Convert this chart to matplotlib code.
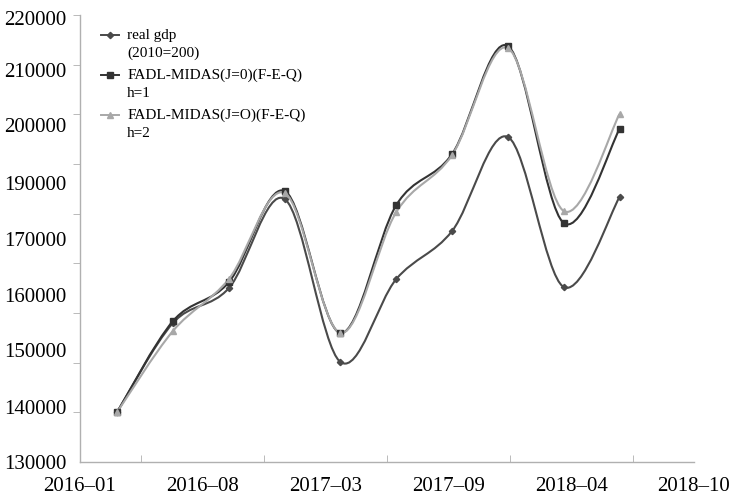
import matplotlib
matplotlib.use("Agg")
import matplotlib.pyplot as plt
from matplotlib.path import Path
from matplotlib.patches import PathPatch
from matplotlib.lines import Line2D
from matplotlib.legend_handler import HandlerLine2D
import numpy as np

# ---- data ----
quarters = ["2016-03", "2016-06", "2016-09", "2016-12", "2017-03",
            "2017-06", "2017-09", "2017-12", "2018-03", "2018-06"]
real_gdp = [140070, 158000, 165000, 182950, 150130,
            166840, 176510, 195430, 165230, 183350]
fadl_h1 = [140070, 158390, 166200, 184560, 155970,
           181740, 192010, 213750, 178120, 197040]
fadl_h2 = [140070, 156400, 166840, 184160, 155970,
           180330, 191810, 213350, 180530, 200060]
x_tick_labels = ["2016–01", "2016–08", "2017–03", "2017–09", "2018–04", "2018–10"]
y_tick_labels = ["130000", "140000", "150000", "160000", "170000",
                 "190000", "200000", "210000", "220000"]
series_labels = ["real gdp\n(2010=200)", "FADL-MIDAS(J=0)(F-E-Q)\nh=1",
                 "FADL-MIDAS(J=O)(F-E-Q)\nh=2"]


def month_index(s):
    y, m = s.split("-")
    return (int(y) - 2016) * 12 + (int(m) - 1)


xs = np.array([month_index(q) for q in quarters], dtype=float)

plt.rcParams['font.family'] = ['Liberation Serif', 'DejaVu Serif']

fig = plt.figure(figsize=(7.33, 4.97), dpi=100)
ax = fig.add_axes([80 / 733, 35 / 497, 614 / 733, 447 / 497])


def smooth_path(x, y):
    pts = np.column_stack([x, y])
    n = len(pts)
    verts = [pts[0]]
    codes = [Path.MOVETO]
    for i in range(n - 1):
        p0 = pts[i - 1] if i > 0 else pts[i]
        p1 = pts[i]
        p2 = pts[i + 1]
        p3 = pts[i + 2] if i + 2 < n else pts[i + 1]
        c1 = p1 + (p2 - p0) / 6.0
        c2 = p2 - (p3 - p1) / 6.0
        verts += [c1, c2, p2]
        codes += [Path.CURVE4] * 3
    return Path(verts, codes)


styles = [
    dict(color="#4a4a4a", marker="D", ms=3.2, lw=1.5),
    dict(color="#333333", marker="s", ms=5.0, lw=1.5),
    dict(color="#a8a8a8", marker="^", ms=4.5, lw=1.5),
]
order = [2, 0, 1]
data = [real_gdp, fadl_h1, fadl_h2]
for k in order:
    st = styles[k]
    patch = PathPatch(smooth_path(xs, data[k]), facecolor="none",
                      edgecolor=st["color"], lw=st["lw"], zorder=2 + k)
    ax.add_patch(patch)
    ax.plot(xs, data[k], ls="none", marker=st["marker"], ms=st["ms"],
            color=st["color"], zorder=5 + k)

ax.set_xlim(0, 33)
ax.set_ylim(130000, 220000)

# x ticks
ax.set_xticks(np.linspace(0, 33, 6))
ax.set_xticklabels(x_tick_labels, fontsize=15)
ax.set_xticks(np.linspace(0, 33, 11), minor=True)
ax.tick_params(axis="x", which="major", length=0, pad=11)
ax.tick_params(axis="x", which="minor", length=5, direction="in",
               color="#b0b0b0")

# y ticks: marks every 10000, labels at their printed positions
label_pos = [130000, 141070, 152550, 163620, 174900,
             186170, 197850, 208920, 219390]
ax.set_yticks(label_pos)
ax.set_yticklabels(y_tick_labels, fontsize=15)
ax.set_yticks(np.arange(130000, 220001, 10000), minor=True)
ax.tick_params(axis="y", which="major", length=0, pad=10)
ax.tick_params(axis="y", which="minor", length=5, direction="out",
               color="#b0b0b0")

for s in ["top", "right"]:
    ax.spines[s].set_visible(False)
for s in ["left", "bottom"]:
    ax.spines[s].set_color("#b0b0b0")
    ax.spines[s].set_linewidth(1.0)


class TopHandler(HandlerLine2D):
    def create_artists(self, legend, orig_handle, xdescent, ydescent,
                       width, height, fontsize, trans):
        arts = super().create_artists(legend, orig_handle, xdescent, ydescent,
                                      width, height, fontsize, trans)
        for a in arts:
            a.set_ydata(np.asarray(a.get_ydata()) + 0.6 * fontsize)
        return arts


handles = [Line2D([], [], color=styles[k]["color"], marker=styles[k]["marker"],
                  ms=styles[k]["ms"], lw=1.4) for k in range(3)]
leg = ax.legend(handles, series_labels, loc="upper left",
                bbox_to_anchor=(0.012, 1.0), frameon=False, fontsize=11,
                handlelength=1.2, handletextpad=0.5, labelspacing=0.55,
                handler_map={Line2D: TopHandler()})
for t in leg.get_texts():
    t.set_linespacing(1.5)

fig.savefig("out.png", dpi=100)
